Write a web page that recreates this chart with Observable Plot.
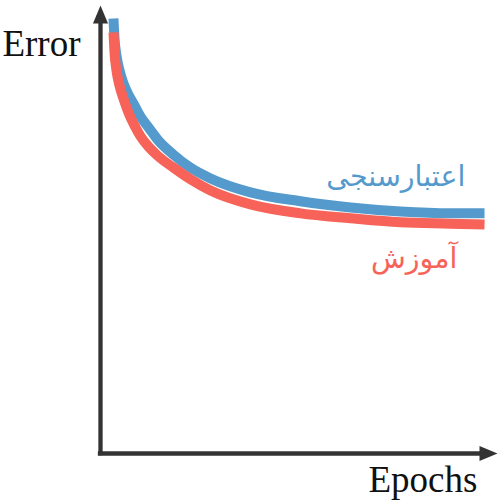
<!DOCTYPE html>
<html>
<head>
<meta charset="utf-8">
<script src="https://cdn.jsdelivr.net/npm/d3@7"></script>
<script src="https://cdn.jsdelivr.net/npm/@observablehq/plot@0.6"></script>
<style>
  html, body { margin: 0; padding: 0; background: #fff; }
  #chart svg { display: block; background: #fff; }
</style>
</head>
<body>
<div id="chart"></div>
<script>
// Epochs (x) and error (y) in arbitrary units, 0..100
const valEpochs = [3.27, 3.53, 4.03, 4.79, 5.79, 7.05, 8.56, 10.08, 12.34, 14.36, 18.39, 22.67, 27.71, 37.78, 50.38, 62.97, 75.57, 88.16, 96.73];
const valError  = [97.1, 92.6, 88.8, 85.5, 82.6, 80.1, 77.7, 75.2, 72.5, 70.1, 66.7, 63.8, 61.4, 58.3, 56.3, 54.9, 54.0, 53.6, 53.6];
const trainEpochs = [3.27, 3.53, 4.03, 4.79, 5.79, 7.05, 8.56, 10.08, 12.09, 14.36, 18.39, 22.67, 27.71, 37.78, 50.38, 62.97, 75.57, 88.16, 96.73];
const trainError  = [94.0, 89.5, 85.5, 82.1, 79.2, 76.1, 73.2, 70.8, 68.5, 66.5, 63.8, 61.2, 58.7, 55.6, 53.6, 52.5, 51.6, 51.3, 51.1];

const seriesNames = ["اعتبارسنجی", "آموزش"];
const seriesColors = ["#559acc", "#f76359"];
const axisTitles = ["Error", "Epochs"];

const validation = valEpochs.map((x, i) => ({x, y: valError[i]}));
const training = trainEpochs.map((x, i) => ({x, y: trainError[i]}));

// custom isosceles triangle arrowhead (tip at origin, pointing up)
const arrowHead = {
  draw(context, size) {
    const r = Math.sqrt(size / Math.PI);
    context.moveTo(0, 0);
    context.lineTo(-r * 0.42, r);
    context.lineTo(r * 0.42, r);
    context.closePath();
  }
};

const axisColor = "#333333";

const chart = Plot.plot({
  width: 500,
  height: 500,
  x: {domain: [0, 100], range: [100, 497], axis: null},
  y: {domain: [0, 100], range: [453, 5], axis: null},
  marks: [
    Plot.ruleX([0], {y1: 0, y2: 96, stroke: axisColor, strokeWidth: 4.3, strokeLinecap: "square"}),
    Plot.ruleY([0], {x1: 0, x2: 95.5, stroke: axisColor, strokeWidth: 4.3, strokeLinecap: "square"}),
    Plot.dot([{x: 0, y: 100}], {x: "x", y: "y", symbol: arrowHead, r: 18, fill: axisColor, stroke: "none"}),
    Plot.dot([{x: 100, y: 0}], {x: "x", y: "y", symbol: arrowHead, r: 18, fill: axisColor, stroke: "none", rotate: 90}),
    Plot.line(validation, {x: "x", y: "y", stroke: seriesColors[0], strokeWidth: 10, curve: "monotone-x", strokeLinecap: "butt"}),
    Plot.line(training, {x: "x", y: "y", stroke: seriesColors[1], strokeWidth: 10, curve: "monotone-x", strokeLinecap: "butt"}),
    Plot.text([axisTitles[0]], {x: -24.7, y: 88.8, text: d => d, textAnchor: "start", lineAnchor: "bottom", fontFamily: "Liberation Serif", fontSize: 37, fill: "#111"}),
    Plot.text([axisTitles[1]], {x: 67.5, y: -8.7, text: d => d, textAnchor: "start", lineAnchor: "bottom", fontFamily: "Liberation Serif", fontSize: 37, fill: "#111"}),
    Plot.text([seriesNames[0]], {x: 91.9, y: 59.8, text: d => d, textAnchor: "end", lineAnchor: "bottom", fontFamily: "DejaVu Sans", fontSize: 28.5, fill: seriesColors[0]}),
    Plot.text([seriesNames[1]], {x: 89.9, y: 41.5, text: d => d, textAnchor: "end", lineAnchor: "bottom", fontFamily: "DejaVu Sans", fontSize: 28.5, fill: seriesColors[1]})
  ]
});

document.getElementById("chart").appendChild(chart);
</script>
</body>
</html>
